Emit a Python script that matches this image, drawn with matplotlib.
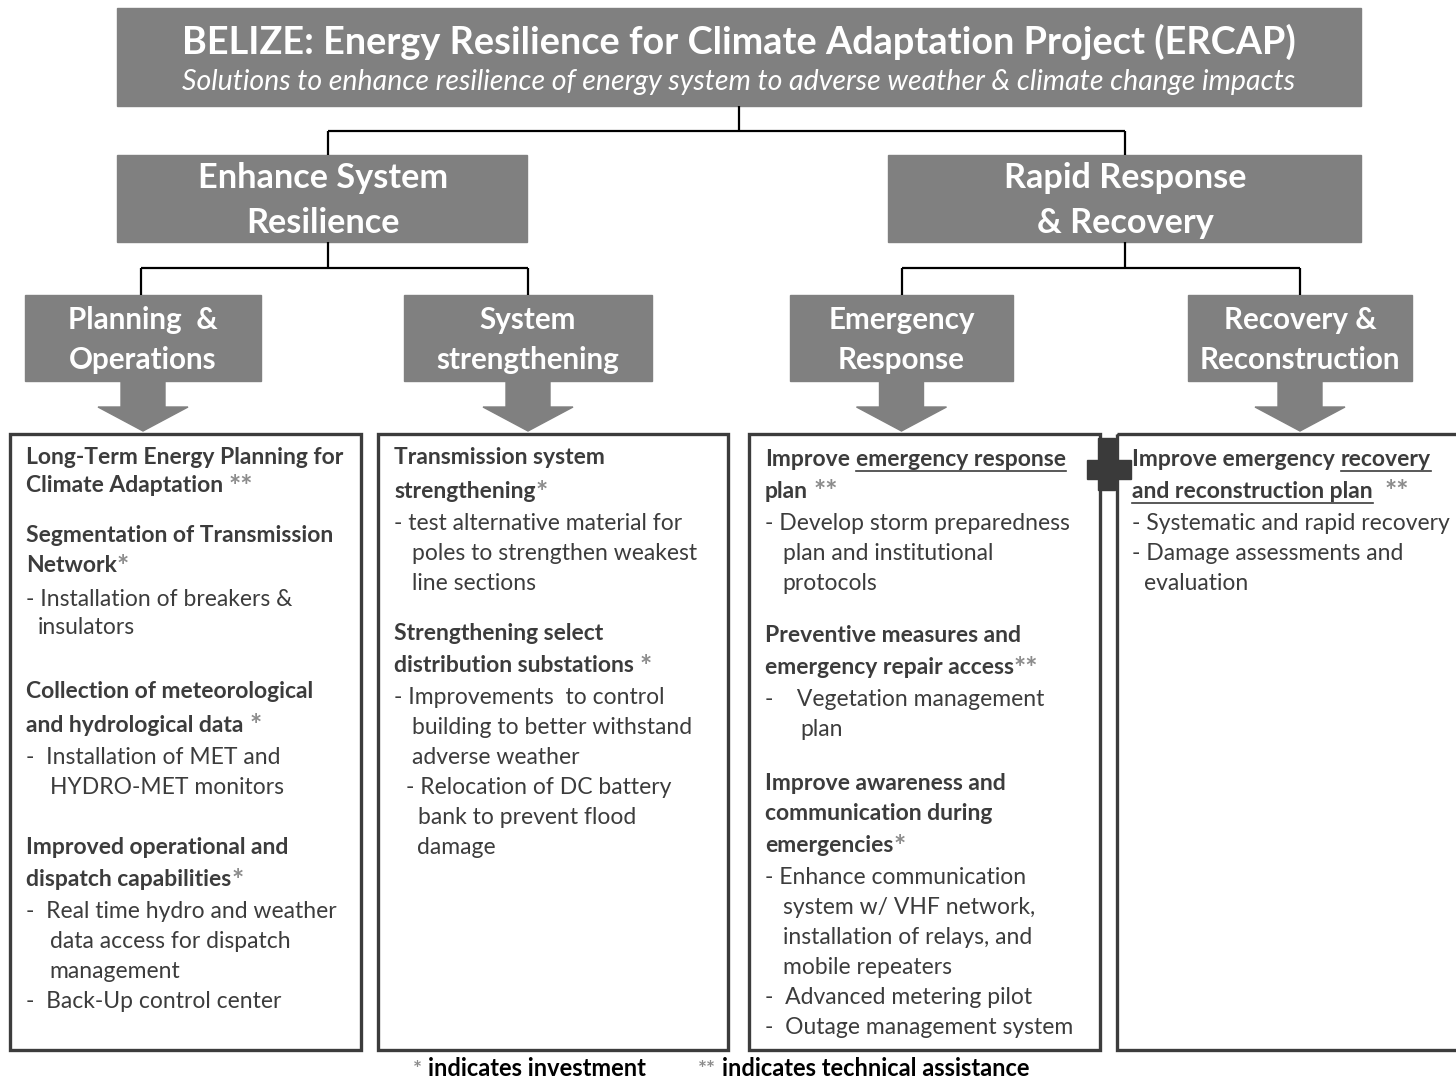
import re
import matplotlib
matplotlib.use("Agg")
import matplotlib.pyplot as plt
from matplotlib.patches import Rectangle, Polygon

plt.rcParams['font.family'] = ['Lato', 'DejaVu Sans']

# ---- text content ----
title = "BELIZE: Energy Resilience for Climate Adaptation Project (ERCAP)"
subtitle = "Solutions to enhance resilience of energy system to adverse weather & climate change impacts"
pillars = ["Enhance System\nResilience", "Rapid Response\n& Recovery"]
components = ["Planning  &\nOperations", "System\nstrengthening",
              "Emergency\nResponse", "Recovery &\nReconstruction"]

# "!" = bold line, "_x_" = underlined bold, "*" = gray marker
box1_lines = [
    "!Long-Term Energy Planning for",
    "!Climate Adaptation **",
    "!Segmentation of Transmission",
    "!Network*",
    "- Installation of breakers &",
    "  insulators",
    "!Collection of meteorological",
    "!and hydrological data *",
    "-  Installation of MET and",
    "    HYDRO-MET monitors",
    "!Improved operational and",
    "!dispatch capabilities*",
    "-  Real time hydro and weather",
    "    data access for dispatch",
    "    management",
    "-  Back-Up control center",
]
box2_lines = [
    "!Transmission system",
    "!strengthening*",
    "- test alternative material for",
    "   poles to strengthen weakest",
    "   line sections",
    "!Strengthening select",
    "!distribution substations *",
    "- Improvements  to control",
    "   building to better withstand",
    "   adverse weather",
    "  - Relocation of DC battery",
    "    bank to prevent flood",
    "    damage",
]
box3_lines = [
    "!Improve _emergency response_",
    "!plan **",
    "- Develop storm preparedness",
    "   plan and institutional",
    "   protocols",
    "!Preventive measures and",
    "!emergency repair access**",
    "-    Vegetation management",
    "      plan",
    "!Improve awareness and",
    "!communication during",
    "!emergencies*",
    "- Enhance communication",
    "   system w/ VHF network,",
    "   installation of relays, and",
    "   mobile repeaters",
    "-  Advanced metering pilot",
    "-  Outage management system",
]
box4_lines = [
    "!Improve emergency _recovery_",
    "!_and reconstruction plan_ **",
    "- Systematic and rapid recovery",
    "- Damage assessments and",
    "  evaluation",
]
footer_lines = ["!* indicates investment", "!** indicates technical assistance"]

# ---- layout ----
W, H = 1456, 1083
fig = plt.figure(figsize=(W / 100, H / 100), dpi=100)
ax = fig.add_axes([0, 0, 1, 1])
ax.set_xlim(0, W)
ax.set_ylim(H, 0)
ax.axis('off')
renderer = fig.canvas.get_renderer()

GRAY = '#808080'
DARK = '#3c3c3c'
STAR = '#8c8c8c'
FS = 16.5

# header
ax.add_patch(Rectangle((117, 8), 1244, 98, color=GRAY))
ax.text(739, 42, title, ha='center', va='center', color='white', fontsize=27.3, fontweight='bold')
ax.text(739, 82, subtitle, ha='center', va='center', color='white', fontsize=20.5, style='italic')

# connectors level 1
lk = dict(color='black', lw=1.6, solid_capstyle='butt')
ax.plot([739, 739], [106, 131], **lk)
ax.plot([328, 1125], [131, 131], **lk)
for x in (328, 1125):
    ax.plot([x, x], [131, 155], **lk)

# pillar boxes
pil_box = [(117, 527), (888, 1361)]
for (x0, x1), txt in zip(pil_box, pillars):
    ax.add_patch(Rectangle((x0, 155), x1 - x0, 87, color=GRAY))
    a, b = txt.split('\n')
    cx = (x0 + x1) / 2 + 1
    ax.text(cx, 178, a, ha='center', va='center', color='white', fontsize=24.7, fontweight='bold')
    ax.text(cx, 223, b, ha='center', va='center', color='white', fontsize=24.7, fontweight='bold')

# connectors level 2
ax.plot([328, 328], [242, 268], **lk)
ax.plot([141, 528], [268, 268], **lk)
ax.plot([1125, 1125], [242, 268], **lk)
ax.plot([902, 1300], [268, 268], **lk)
for x in (141, 528, 902, 1300):
    ax.plot([x, x], [268, 295], **lk)

# component boxes + arrows
comp_box = [(25, 261), (404, 652), (790, 1013), (1188, 1412)]
for (x0, x1), txt in zip(comp_box, components):
    ax.add_patch(Rectangle((x0, 295), x1 - x0, 86, color=GRAY))
    a, b = txt.split('\n')
    cx = (x0 + x1) / 2
    ax.text(cx, 320, a, ha='center', va='center', color='white', fontsize=21.3, fontweight='bold')
    ax.text(cx, 360, b, ha='center', va='center', color='white', fontsize=21.3, fontweight='bold')
    ax.add_patch(Polygon([(cx - 22, 381), (cx + 22, 381), (cx + 22, 407), (cx + 45, 407),
                          (cx, 431), (cx - 45, 407), (cx - 22, 407)], closed=True, color=GRAY))

# content boxes
content_box = [(10, 361), (378, 728), (749, 1100), (1117, 1475)]
for x0, x1 in content_box:
    ax.add_patch(Rectangle((x0, 434), x1 - x0, 616, fill=False, ec=DARK, lw=2.4))

# cross icon
ax.add_patch(Rectangle((1098, 438), 17, 52, color='#3a3a3a', zorder=5))
ax.add_patch(Rectangle((1087, 460), 44, 19, color='#3a3a3a', zorder=5))

space_w = None


def width(t):
    return t.get_window_extent(renderer).width


def draw_line(x, y, line, fs=FS, color=DARK, star_scale=1.25):
    global space_w
    bold = line.startswith('!')
    if bold:
        line = line[1:]
    if space_w is None:
        t1 = ax.text(0, -100, "a a", fontsize=fs)
        t2 = ax.text(0, -100, "aa", fontsize=fs)
        space_w = width(t1) - width(t2)
        t1.remove()
        t2.remove()
    cur = x
    for seg in re.split(r'(\*+|_[^_]+_)', line):
        if not seg:
            continue
        lead = len(seg) - len(seg.lstrip(' '))
        trail = len(seg) - len(seg.rstrip(' '))
        core = seg.strip(' ')
        cur += lead * space_w
        if core:
            if core.startswith('*'):
                t = ax.text(cur, y + 1, core, ha='left', va='center', fontsize=fs * star_scale,
                            color=STAR, fontweight='bold')
            else:
                und = core.startswith('_')
                core = core.strip('_')
                t = ax.text(cur, y, core, ha='left', va='center', fontsize=fs, color=color,
                            fontweight='bold' if bold else 'normal')
                if und:
                    w = width(t)
                    ax.plot([cur, cur + w], [y + 12, y + 12], color=color, lw=1.2)
            cur += width(t)
        cur += trail * space_w


box1_y = [457, 486, 535, 566, 599, 628, 692, 725, 758, 787, 847, 880, 912, 942, 971, 1001]
box2_y = [458, 492, 523, 553, 583, 633, 666, 698, 728, 757, 788, 817, 848]
box3_y = [459, 491, 523, 553, 583, 636, 668, 700, 730, 783, 813, 846, 877, 907, 937, 967, 998, 1028]
box4_y = [459, 491, 523, 553, 583]

for x0, lines, ys in [(26, box1_lines, box1_y), (394, box2_lines, box2_y),
                      (765, box3_lines, box3_y), (1132, box4_lines, box4_y)]:
    for ln, y in zip(lines, ys):
        draw_line(x0, y, ln)

draw_line(413, 1069, footer_lines[0], fs=17, color='black', star_scale=0.9)
draw_line(698, 1069, footer_lines[1], fs=17, color='black', star_scale=0.9)

fig.savefig("out.png", dpi=100)
